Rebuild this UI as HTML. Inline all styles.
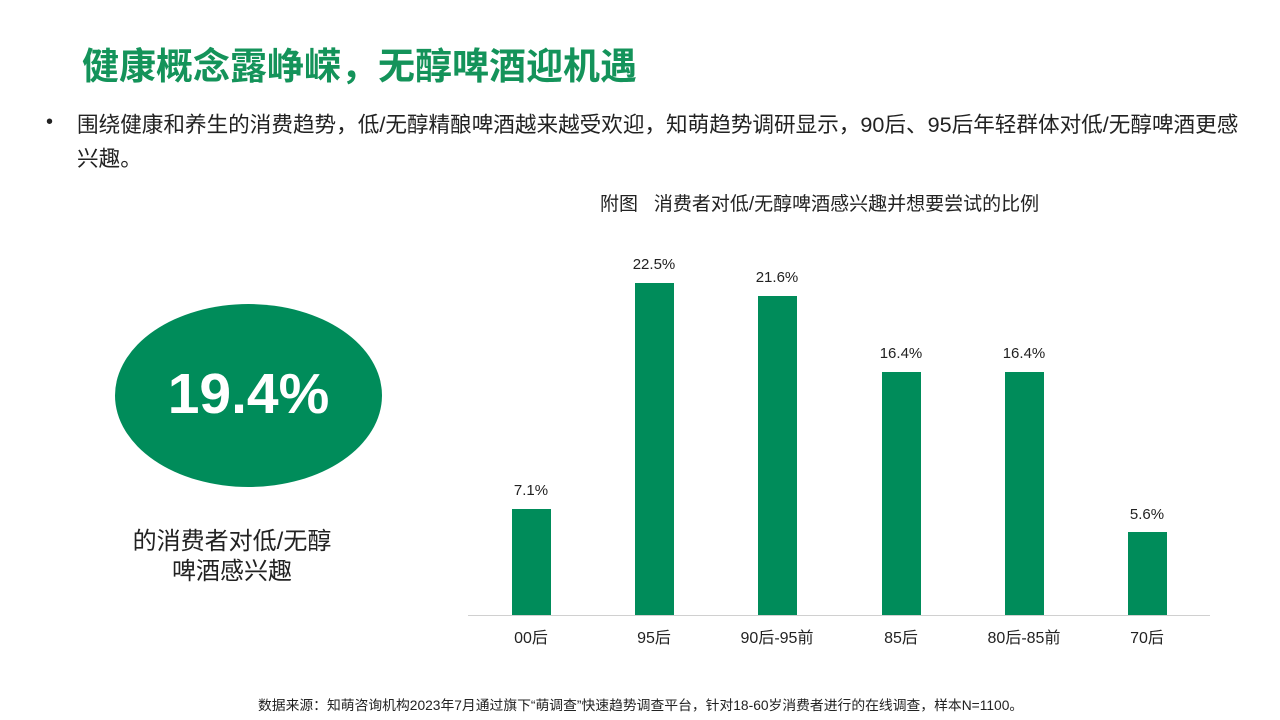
<!DOCTYPE html><html><head><meta charset="utf-8"><style>
body{margin:0;width:1280px;height:720px;background:#fff;position:relative;overflow:hidden;font-family:"Liberation Sans","Noto Sans CJK SC",sans-serif;color:#222}
.a{position:absolute;white-space:nowrap}
.bar{position:absolute;width:39px;background:#008C5A}
.v{position:absolute;width:80px;text-align:center;font-size:15px;color:#222}
.c{position:absolute;width:120px;text-align:center;font-size:16px;top:624px;color:#222}
</style></head><body>
<div class="a" style="left:82px;top:36px;font-size:37px;font-weight:bold;color:#14935A">健康概念露峥嵘，无醇啤酒迎机遇</div>
<div class="a" style="left:46px;top:111px;font-size:20px">•</div>
<div class="a" style="left:77px;top:108px;font-size:21.6px;line-height:34px">围绕健康和养生的消费趋势，低/无醇精酿啤酒越来越受欢迎，知萌趋势调研显示，90后、95后年轻群体对低/无醇啤酒更感<br>兴趣。</div>
<div class="a" style="left:600px;top:189px;font-size:19px">附图&nbsp;&nbsp;&nbsp;消费者对低/无醇啤酒感兴趣并想要尝试的比例</div>
<div class="a" style="left:115px;top:304px;width:267px;height:183px;border-radius:50%;background:#008C5A"></div>
<div class="a" style="left:115px;top:361px;width:267px;text-align:center;font-size:57px;font-weight:bold;color:#fff">19.4%</div>
<div class="a" style="left:82px;top:527px;width:300px;text-align:center;font-size:24px;line-height:30px">的消费者对低/无醇<br>啤酒感兴趣</div>
<div class="a" style="left:468px;top:615px;width:742px;height:1px;background:#d0d0d0"></div>
<div class="bar" style="left:512px;top:509px;height:106px"></div>
<div class="bar" style="left:635px;top:283px;height:332px"></div>
<div class="bar" style="left:758px;top:296px;height:319px"></div>
<div class="bar" style="left:882px;top:372px;height:243px"></div>
<div class="bar" style="left:1005px;top:372px;height:243px"></div>
<div class="bar" style="left:1128px;top:532px;height:83px"></div>
<div class="v" style="left:491px;top:482px">7.1%</div>
<div class="v" style="left:614px;top:256px">22.5%</div>
<div class="v" style="left:737px;top:269px">21.6%</div>
<div class="v" style="left:861px;top:345px">16.4%</div>
<div class="v" style="left:984px;top:345px">16.4%</div>
<div class="v" style="left:1107px;top:506px">5.6%</div>
<div class="c" style="left:471px">00后</div>
<div class="c" style="left:594px">95后</div>
<div class="c" style="left:717px">90后-95前</div>
<div class="c" style="left:841px">85后</div>
<div class="c" style="left:964px">80后-85前</div>
<div class="c" style="left:1087px">70后</div>
<div class="a" style="left:258px;top:694px;font-size:13.8px">数据来源：知萌咨询机构2023年7月通过旗下“萌调查”快速趋势调查平台，针对18-60岁消费者进行的在线调查，样本N=1100。</div>
</body></html>
